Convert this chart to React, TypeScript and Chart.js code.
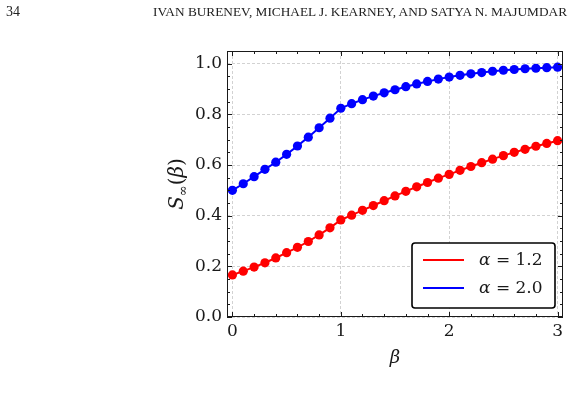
import React, { useEffect, useRef } from "react";
import { Chart, registerables } from "chart.js";

Chart.register(...registerables);

// ---------- data ----------
const betaValues = [
  0, 0.1, 0.2, 0.3, 0.4, 0.5, 0.6, 0.7, 0.8, 0.9, 1.0, 1.1, 1.2, 1.3, 1.4, 1.5,
  1.6, 1.7, 1.8, 1.9, 2.0, 2.1, 2.2, 2.3, 2.4, 2.5, 2.6, 2.7, 2.8, 2.9, 3.0,
];
const seriesAlpha12 = [
  0.166, 0.181, 0.197, 0.214, 0.233, 0.254, 0.275, 0.298, 0.324, 0.352, 0.383,
  0.402, 0.421, 0.44, 0.459, 0.478, 0.496, 0.514, 0.531, 0.548, 0.563, 0.579,
  0.594, 0.609, 0.623, 0.637, 0.65, 0.662, 0.674, 0.685, 0.696,
];
const seriesAlpha20 = [
  0.5, 0.526, 0.554, 0.583, 0.611, 0.642, 0.675, 0.71, 0.747, 0.785, 0.824,
  0.842, 0.858, 0.872, 0.885, 0.897, 0.909, 0.92, 0.93, 0.939, 0.947, 0.954,
  0.96, 0.965, 0.97, 0.974, 0.977, 0.98, 0.982, 0.984, 0.986,
];
const seriesSymbol = "α";
const seriesParams = ["1.2", "2.0"];
const seriesColors = ["#ff0000", "#0000ff"];

const xTicks = [0, 1, 2, 3];
const xTickLabels = ["0", "1", "2", "3"];
const xMinorTicks = [0.2, 0.4, 0.6, 0.8, 1.2, 1.4, 1.6, 1.8, 2.2, 2.4, 2.6, 2.8];
const yTicks = [0, 0.2, 0.4, 0.6, 0.8, 1.0];
const yTickLabels = ["0.0", "0.2", "0.4", "0.6", "0.8", "1.0"];
const yMinorTicks = [
  0.05, 0.1, 0.15, 0.25, 0.3, 0.35, 0.45, 0.5, 0.55, 0.65, 0.7, 0.75, 0.85, 0.9,
  0.95,
];
const xRange = [-0.05, 3.05];
const yRange = [0, 1.05];

const xTitle = "β";
const yTitleMain = "S";
const yTitleSub = "∞";
const yTitleArg = "β";

const pageNumber = "34";
const runningHead = "IVAN BURENEV, MICHAEL J. KEARNEY, AND SATYA N. MAJUMDAR";

// ---------- styling ----------
const SERIF = "'DejaVu Serif', 'Liberation Serif', serif";
const INK = "#1a1a1a";

const decorPlugin = {
  id: "decor",
  afterDraw(chart: any) {
    const { ctx, chartArea: a, scales } = chart;
    const xs = scales.x;
    const ys = scales.y;
    ctx.save();

    // frame
    ctx.strokeStyle = INK;
    ctx.lineWidth = 1;
    ctx.strokeRect(a.left + 0.5, a.top + 0.5, a.right - a.left - 1, a.bottom - a.top - 1);

    // inward ticks on all four sides
    const tick = (x1: number, y1: number, x2: number, y2: number) => {
      ctx.beginPath();
      ctx.moveTo(x1, y1);
      ctx.lineTo(x2, y2);
      ctx.stroke();
    };
    const drawX = (vals: number[], len: number) => {
      vals.forEach((v) => {
        const px = Math.round(xs.getPixelForValue(v)) + 0.5;
        tick(px, a.bottom, px, a.bottom - len);
        tick(px, a.top, px, a.top + len);
      });
    };
    const drawY = (vals: number[], len: number) => {
      vals.forEach((v) => {
        const py = Math.round(ys.getPixelForValue(v)) + 0.5;
        tick(a.left, py, a.left + len, py);
        tick(a.right, py, a.right - len, py);
      });
    };
    drawX(xTicks, 5);
    drawX(xMinorTicks, 3);
    drawY(yTicks, 5);
    drawY(yMinorTicks, 3);

    // x title
    ctx.fillStyle = INK;
    ctx.font = `italic 18px ${SERIF}`;
    ctx.textAlign = "center";
    ctx.textBaseline = "alphabetic";
    ctx.fillText(xTitle, (a.left + a.right) / 2, a.bottom + 46);

    // y title: S_inf(beta), rotated
    ctx.save();
    ctx.translate(a.left - 44, (a.top + a.bottom) / 2);
    ctx.rotate(-Math.PI / 2);
    ctx.textAlign = "left";
    const fMain = `italic 20px ${SERIF}`;
    const fSub = `13px ${SERIF}`;
    const fReg = `20px ${SERIF}`;
    const parts: [string, string, number][] = [
      [yTitleMain, fMain, 0],
      [yTitleSub, fSub, 4],
      ["(", fReg, 0],
      [yTitleArg, fMain, 0],
      [")", fReg, 0],
    ];
    let total = 0;
    const widths = parts.map(([t, f]) => {
      ctx.font = f;
      const w = ctx.measureText(t).width;
      total += w;
      return w;
    });
    let cx = -total / 2;
    parts.forEach(([t, f, dy], i) => {
      ctx.font = f;
      ctx.fillText(t, cx, dy);
      cx += widths[i];
    });
    ctx.restore();

    // legend
    const bw = 143;
    const bh = 65;
    const bx = a.right - 8 - bw;
    const by = a.bottom - 9 - bh;
    ctx.fillStyle = "#ffffff";
    ctx.strokeStyle = "#000000";
    ctx.lineWidth = 1.6;
    ctx.beginPath();
    (ctx as any).roundRect(bx, by, bw, bh, 3);
    ctx.fill();
    ctx.stroke();
    chart.data.datasets.forEach((ds: any, i: number) => {
      const ly = by + 17 + i * 28;
      ctx.strokeStyle = ds.borderColor;
      ctx.lineWidth = 2;
      ctx.beginPath();
      ctx.moveTo(bx + 11, ly);
      ctx.lineTo(bx + 52, ly);
      ctx.stroke();
      ctx.fillStyle = INK;
      ctx.textAlign = "left";
      ctx.textBaseline = "middle";
      ctx.font = `italic 17px ${SERIF}`;
      const tx = bx + 67;
      ctx.fillText(seriesSymbol, tx, ly + 1);
      const sw = ctx.measureText(seriesSymbol).width;
      ctx.font = `17px ${SERIF}`;
      ctx.fillText(" = " + seriesParams[i], tx + sw, ly + 1);
    });

    ctx.restore();
  },
};

export default function App() {
  const canvasRef = useRef<HTMLCanvasElement | null>(null);

  useEffect(() => {
    const canvas = canvasRef.current;
    if (!canvas) return;
    const seriesValues = [seriesAlpha12, seriesAlpha20];
    const chart = new Chart(canvas, {
      type: "line",
      data: {
        datasets: seriesValues.map((vals, i) => ({
          label: `${seriesSymbol} = ${seriesParams[i]}`,
          data: betaValues.map((b, j) => ({ x: b, y: vals[j] })),
          borderColor: seriesColors[i],
          backgroundColor: seriesColors[i],
          pointBackgroundColor: seriesColors[i],
          pointBorderColor: seriesColors[i],
          pointBorderWidth: 0,
          pointRadius: 4.6,
          borderWidth: 2,
          tension: 0,
          fill: false,
        })),
      },
      options: {
        responsive: false,
        animation: false,
        devicePixelRatio: 1,
        layout: { padding: { top: 51, right: 12, left: 0, bottom: 0 } },
        plugins: {
          legend: { display: false },
          tooltip: { enabled: false },
          title: { display: false },
        },
        scales: {
          x: {
            type: "linear",
            min: xRange[0],
            max: xRange[1],
            afterBuildTicks: (s: any) => {
              s.ticks = xTicks.map((v) => ({ value: v }));
            },
            afterFit: (s: any) => {
              s.height = 85;
            },
            ticks: {
              autoSkip: false,
              maxRotation: 0,
              padding: 4,
              color: INK,
              font: { family: SERIF, size: 17 },
              callback: (_v: any, i: number) => xTickLabels[i],
            },
            grid: { color: "#d2d2d2", lineWidth: 1, drawTicks: false },
            border: { display: false, dash: [3, 2] },
          },
          y: {
            type: "linear",
            min: yRange[0],
            max: yRange[1],
            afterBuildTicks: (s: any) => {
              s.ticks = yTicks.map((v) => ({ value: v }));
            },
            afterFit: (s: any) => {
              s.width = 227;
            },
            ticks: {
              autoSkip: false,
              padding: 5,
              color: INK,
              font: { family: SERIF, size: 17 },
              callback: (_v: any, i: number) => yTickLabels[i],
            },
            grid: { color: "#d2d2d2", lineWidth: 1, drawTicks: false },
            border: { display: false, dash: [3, 2] },
          },
        },
      },
      plugins: [decorPlugin],
    } as any);
    return () => chart.destroy();
  }, []);

  return (
    <div
      style={{
        position: "absolute",
        left: 0,
        top: 0,
        width: 575,
        height: 402,
        background: "#ffffff",
        overflow: "hidden",
      }}
    >
      <canvas
        ref={canvasRef}
        width={575}
        height={402}
        style={{ position: "absolute", left: 0, top: 0, display: "block" }}
      />
      <div
        style={{
          position: "absolute",
          left: 6,
          top: 5,
          fontFamily: "'Liberation Serif', serif",
          fontSize: 14,
          lineHeight: "14px",
          color: "#222",
          whiteSpace: "nowrap",
        }}
      >
        {pageNumber}
      </div>
      <div
        style={{
          position: "absolute",
          right: 8,
          top: 5,
          fontFamily: "'Liberation Serif', serif",
          fontSize: 13.3,
          lineHeight: "14px",
          color: "#222",
          whiteSpace: "nowrap",
        }}
      >
        {runningHead}
      </div>
    </div>
  );
}
